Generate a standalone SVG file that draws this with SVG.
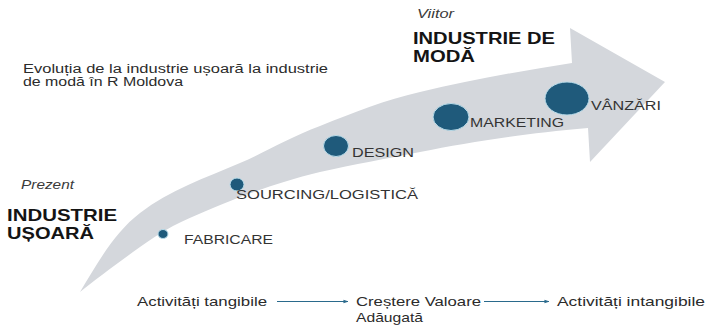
<svg xmlns="http://www.w3.org/2000/svg" width="708" height="326" viewBox="0 0 708 326">
  <defs>
    <marker id="ah" viewBox="0 0 6 6" refX="5.5" refY="3" markerWidth="5" markerHeight="5" orient="auto" markerUnits="userSpaceOnUse">
      <path d="M0,0.8 L6,3 L0,5.2 Z" fill="#2a6a8c"/>
    </marker>
  </defs>
  <style>
    text { font-family: "Liberation Sans", Arial, sans-serif; }
    .title { font-size: 12.5px; fill: #2b2b2b; }
    .ital { font-size: 13px; font-style: italic; fill: #3a3a3a; }
    .head { font-size: 16.5px; font-weight: bold; fill: #141414; }
    .lbl { font-size: 12.5px; fill: #333333; }
    .bot { font-size: 13px; fill: #2b2b2b; }
    .dot { fill: #1f5a7b; stroke: #b9dcea; stroke-width: 1; }
    .conn { stroke: #2a6a8c; stroke-width: 1; fill: none; }
  </style>
  <rect width="708" height="326" fill="#ffffff"/>

  <g id="big-arrow">
    <path d="M80,292 C98,262 115,232 140,213 C170,190 205,178 240,163 C270,150 290,137 320,126 C355,112 385,100 420,92 C470,80 520,71 572,63 L570,28 L665,82 L590,162 L588,128 C520,134 470,142 420,152 C385,159 355,164 320,172 C290,179 265,188 240,197 C215,207 195,215 173,226 C160,233 150,240 140,247 C115,265 95,280 80,292 Z" fill="#d4d7dc"/>
  </g>

  <g id="title">
    <text class="title" x="23" y="72.5" textLength="305" lengthAdjust="spacingAndGlyphs">Evoluția de la industrie ușoară la industrie</text>
    <text class="title" x="23" y="86" textLength="160" lengthAdjust="spacingAndGlyphs">de modă în R Moldova</text>
  </g>

  <g id="viitor">
    <text class="ital" x="417" y="18" textLength="37" lengthAdjust="spacingAndGlyphs">Viitor</text>
    <text class="head" x="413" y="43.5" font-size="17" textLength="142" lengthAdjust="spacingAndGlyphs">INDUSTRIE DE</text>
    <text class="head" x="413" y="61.5" font-size="17" textLength="62" lengthAdjust="spacingAndGlyphs">MODĂ</text>
  </g>

  <g id="prezent">
    <text class="ital" x="21" y="188.5" textLength="53" lengthAdjust="spacingAndGlyphs">Prezent</text>
    <text class="head" x="7" y="221" textLength="110" lengthAdjust="spacingAndGlyphs">INDUSTRIE</text>
    <text class="head" x="7" y="238.5" textLength="87" lengthAdjust="spacingAndGlyphs">UȘOARĂ</text>
  </g>

  <g id="fabricare">
    <ellipse class="dot" cx="163" cy="234" rx="5" ry="4.5"/>
    <text class="lbl" x="184" y="243.5" textLength="89" lengthAdjust="spacingAndGlyphs">FABRICARE</text>
  </g>
  <g id="sourcing">
    <ellipse class="dot" cx="237" cy="184.5" rx="7" ry="6.5"/>
    <text class="lbl" x="236" y="199" textLength="182" lengthAdjust="spacingAndGlyphs">SOURCING/LOGISTICĂ</text>
  </g>
  <g id="design">
    <ellipse class="dot" cx="336" cy="146" rx="12.5" ry="10.5"/>
    <text class="lbl" x="352" y="156.5" textLength="62" lengthAdjust="spacingAndGlyphs">DESIGN</text>
  </g>
  <g id="marketing">
    <ellipse class="dot" cx="451" cy="117" rx="18" ry="13.5"/>
    <text class="lbl" x="470" y="126.5" textLength="94" lengthAdjust="spacingAndGlyphs">MARKETING</text>
  </g>
  <g id="vanzari">
    <ellipse class="dot" cx="567" cy="98.5" rx="22" ry="16.5"/>
    <text class="lbl" x="591" y="110" textLength="70" lengthAdjust="spacingAndGlyphs">VÂNZĂRI</text>
  </g>

  <g id="tangibile">
    <text class="bot" x="137" y="306" textLength="130" lengthAdjust="spacingAndGlyphs">Activități tangibile</text>
  </g>
  <g id="valoare">
    <text class="bot" x="356" y="306" textLength="125" lengthAdjust="spacingAndGlyphs">Creștere Valoare</text>
    <text class="bot" x="356" y="321.5" textLength="67" lengthAdjust="spacingAndGlyphs">Adăugată</text>
  </g>
  <g id="intangibile">
    <text class="bot" x="557" y="306" textLength="148" lengthAdjust="spacingAndGlyphs">Activități intangibile</text>
  </g>

  <g id="connectors">
    <line class="conn" x1="277" y1="301.5" x2="348" y2="301.5" marker-end="url(#ah)"/>
    <line class="conn" x1="484" y1="301.5" x2="549" y2="301.5" marker-end="url(#ah)"/>
  </g>
</svg>
